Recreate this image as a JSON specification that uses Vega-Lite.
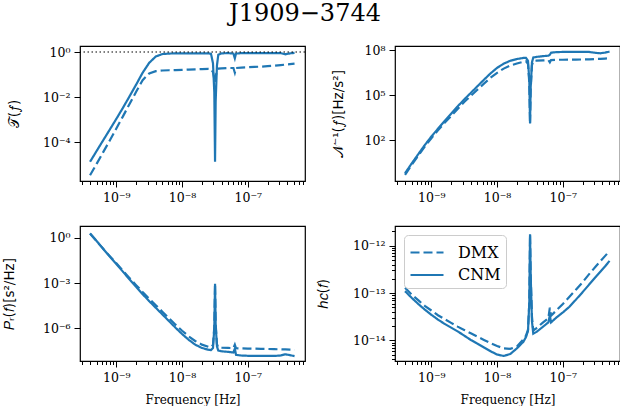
{
  "$schema": "https://vega.github.io/schema/vega-lite/v6.json",
  "padding": {"left": 1, "top": 1, "right": 0, "bottom": 0},
  "background": "white",
  "title": {"text": "J1909−3744", "font": "DejaVu Serif", "fontSize": 24, "fontWeight": "normal", "color": "black", "anchor": "middle", "dx": -6, "offset": 18},
  "datasets": {
    "T": [
      {"f": 3.98e-10, "DMX": 3.31e-6, "CNM": 1.32e-5},
      {"f": 5.01e-10, "DMX": 1.07e-5, "CNM": 3.98e-5},
      {"f": 6.31e-10, "DMX": 3.55e-5, "CNM": 1.20e-4},
      {"f": 7.94e-10, "DMX": 1.17e-4, "CNM": 3.55e-4},
      {"f": 1.00e-9, "DMX": 3.98e-4, "CNM": 1.07e-3},
      {"f": 1.26e-9, "DMX": 1.38e-3, "CNM": 3.31e-3},
      {"f": 1.58e-9, "DMX": 4.79e-3, "CNM": 1.05e-2},
      {"f": 2.00e-9, "DMX": 0.0170, "CNM": 0.0355},
      {"f": 2.51e-9, "DMX": 0.0562, "CNM": 0.120},
      {"f": 3.16e-9, "DMX": 0.112, "CNM": 0.331},
      {"f": 3.98e-9, "DMX": 0.141, "CNM": 0.631},
      {"f": 5.01e-9, "DMX": 0.151, "CNM": 0.813},
      {"f": 6.31e-9, "DMX": 0.155, "CNM": 0.851},
      {"f": 7.94e-9, "DMX": 0.158, "CNM": 0.871},
      {"f": 1.00e-8, "DMX": 0.162, "CNM": 0.871},
      {"f": 1.26e-8, "DMX": 0.166, "CNM": 0.871},
      {"f": 1.58e-8, "DMX": 0.170, "CNM": 0.871},
      {"f": 2.00e-8, "DMX": 0.174, "CNM": 0.871},
      {"f": 2.51e-8, "DMX": 0.178, "CNM": 0.871},
      {"f": 2.75e-8, "DMX": 0.174, "CNM": 0.832},
      {"f": 2.95e-8, "DMX": 0.126, "CNM": 0.316},
      {"f": 3.09e-8, "DMX": 0.0631, "CNM": 0.0158},
      {"f": 3.17e-8, "DMX": 0.0447, "CNM": 1.32e-5},
      {"f": 3.24e-8, "DMX": 0.0794, "CNM": 0.00631},
      {"f": 3.39e-8, "DMX": 0.158, "CNM": 0.251},
      {"f": 3.55e-8, "DMX": 0.182, "CNM": 0.759},
      {"f": 3.98e-8, "DMX": 0.186, "CNM": 0.871},
      {"f": 5.01e-8, "DMX": 0.195, "CNM": 0.891},
      {"f": 6.03e-8, "DMX": 0.195, "CNM": 0.851},
      {"f": 6.34e-8, "DMX": 0.120, "CNM": 0.525},
      {"f": 6.61e-8, "DMX": 0.195, "CNM": 0.851},
      {"f": 7.94e-8, "DMX": 0.204, "CNM": 0.891},
      {"f": 1.00e-7, "DMX": 0.209, "CNM": 0.891},
      {"f": 1.26e-7, "DMX": 0.219, "CNM": 0.891},
      {"f": 1.58e-7, "DMX": 0.224, "CNM": 0.891},
      {"f": 2.00e-7, "DMX": 0.234, "CNM": 0.891},
      {"f": 2.51e-7, "DMX": 0.245, "CNM": 0.891},
      {"f": 3.16e-7, "DMX": 0.263, "CNM": 0.891},
      {"f": 3.72e-7, "DMX": 0.275, "CNM": 0.794},
      {"f": 4.37e-7, "DMX": 0.288, "CNM": 0.871},
      {"f": 5.13e-7, "DMX": 0.302, "CNM": 0.912}
    ],
    "N": [
      {"f": 3.98e-10, "DMX": 0.490, "CNM": 0.631},
      {"f": 5.01e-10, "DMX": 2.29, "CNM": 2.82},
      {"f": 6.31e-10, "DMX": 9.55, "CNM": 11.7},
      {"f": 7.94e-10, "DMX": 38.0, "CNM": 47.9},
      {"f": 1.00e-9, "DMX": 138, "CNM": 178},
      {"f": 1.26e-9, "DMX": 457, "CNM": 589},
      {"f": 1.58e-9, "DMX": 1413, "CNM": 1862},
      {"f": 2.00e-9, "DMX": 4169, "CNM": 5888},
      {"f": 2.51e-9, "DMX": 12303, "CNM": 18197},
      {"f": 3.16e-9, "DMX": 35481, "CNM": 52481},
      {"f": 3.98e-9, "DMX": 91201, "CNM": 144544},
      {"f": 5.01e-9, "DMX": 234423, "CNM": 398107},
      {"f": 6.31e-9, "DMX": 602560, "CNM": 1.096e6},
      {"f": 7.94e-9, "DMX": 1.479e6, "CNM": 2.884e6},
      {"f": 1.00e-8, "DMX": 3.162e6, "CNM": 6.761e6},
      {"f": 1.26e-8, "DMX": 6.026e6, "CNM": 1.288e7},
      {"f": 1.58e-8, "DMX": 9.550e6, "CNM": 1.995e7},
      {"f": 2.00e-8, "DMX": 1.318e7, "CNM": 2.630e7},
      {"f": 2.51e-8, "DMX": 1.738e7, "CNM": 3.090e7},
      {"f": 2.75e-8, "DMX": 1.862e7, "CNM": 3.162e7},
      {"f": 2.95e-8, "DMX": 1.259e7, "CNM": 1.995e7},
      {"f": 3.09e-8, "DMX": 6.310e5, "CNM": 1.0e6},
      {"f": 3.17e-8, "DMX": 1175, "CNM": 1479},
      {"f": 3.24e-8, "DMX": 2.512e5, "CNM": 3.162e5},
      {"f": 3.39e-8, "DMX": 1.0e7, "CNM": 1.585e7},
      {"f": 3.55e-8, "DMX": 1.950e7, "CNM": 3.311e7},
      {"f": 3.98e-8, "DMX": 2.042e7, "CNM": 3.631e7},
      {"f": 5.01e-8, "DMX": 2.138e7, "CNM": 4.074e7},
      {"f": 6.03e-8, "DMX": 2.188e7, "CNM": 4.365e7},
      {"f": 6.34e-8, "DMX": 1.585e7, "CNM": 5.012e7},
      {"f": 6.61e-8, "DMX": 2.239e7, "CNM": 6.918e7},
      {"f": 7.94e-8, "DMX": 2.344e7, "CNM": 7.586e7},
      {"f": 1.00e-7, "DMX": 2.344e7, "CNM": 7.762e7},
      {"f": 1.26e-7, "DMX": 2.399e7, "CNM": 7.943e7},
      {"f": 1.58e-7, "DMX": 2.399e7, "CNM": 7.943e7},
      {"f": 2.00e-7, "DMX": 2.455e7, "CNM": 7.943e7},
      {"f": 2.51e-7, "DMX": 2.512e7, "CNM": 7.762e7},
      {"f": 3.16e-7, "DMX": 2.630e7, "CNM": 6.761e7},
      {"f": 3.72e-7, "DMX": 2.692e7, "CNM": 6.310e7},
      {"f": 4.37e-7, "DMX": 2.818e7, "CNM": 7.079e7},
      {"f": 5.13e-7, "DMX": 2.951e7, "CNM": 8.128e7}
    ],
    "P": [
      {"f": 3.98e-10, "DMX": 1.905, "CNM": 1.905},
      {"f": 5.01e-10, "DMX": 0.589, "CNM": 0.603},
      {"f": 6.31e-10, "DMX": 0.186, "CNM": 0.182},
      {"f": 7.94e-10, "DMX": 0.0603, "CNM": 0.0562},
      {"f": 1.00e-9, "DMX": 0.0200, "CNM": 0.0178},
      {"f": 1.26e-9, "DMX": 6.61e-3, "CNM": 5.62e-3},
      {"f": 1.58e-9, "DMX": 2.19e-3, "CNM": 1.78e-3},
      {"f": 2.00e-9, "DMX": 7.24e-4, "CNM": 5.62e-4},
      {"f": 2.51e-9, "DMX": 2.51e-4, "CNM": 1.82e-4},
      {"f": 3.16e-9, "DMX": 9.12e-5, "CNM": 6.31e-5},
      {"f": 3.98e-9, "DMX": 3.39e-5, "CNM": 2.29e-5},
      {"f": 5.01e-9, "DMX": 1.26e-5, "CNM": 8.32e-6},
      {"f": 6.31e-9, "DMX": 4.68e-6, "CNM": 3.02e-6},
      {"f": 7.94e-9, "DMX": 1.74e-6, "CNM": 1.10e-6},
      {"f": 1.00e-8, "DMX": 6.92e-7, "CNM": 4.17e-7},
      {"f": 1.26e-8, "DMX": 2.95e-7, "CNM": 1.74e-7},
      {"f": 1.58e-8, "DMX": 1.45e-7, "CNM": 8.32e-8},
      {"f": 2.00e-8, "DMX": 8.32e-8, "CNM": 5.01e-8},
      {"f": 2.51e-8, "DMX": 6.03e-8, "CNM": 3.80e-8},
      {"f": 2.75e-8, "DMX": 5.62e-8, "CNM": 3.63e-8},
      {"f": 2.95e-8, "DMX": 7.94e-8, "CNM": 5.01e-8},
      {"f": 3.09e-8, "DMX": 1.26e-6, "CNM": 1.0e-6},
      {"f": 3.17e-8, "DMX": 8.91e-4, "CNM": 8.91e-4},
      {"f": 3.24e-8, "DMX": 2.0e-6, "CNM": 1.58e-6},
      {"f": 3.39e-8, "DMX": 8.91e-8, "CNM": 6.31e-8},
      {"f": 3.55e-8, "DMX": 5.50e-8, "CNM": 3.31e-8},
      {"f": 3.98e-8, "DMX": 5.25e-8, "CNM": 3.02e-8},
      {"f": 5.01e-8, "DMX": 5.01e-8, "CNM": 2.75e-8},
      {"f": 6.03e-8, "DMX": 4.90e-8, "CNM": 2.51e-8},
      {"f": 6.34e-8, "DMX": 8.32e-8, "CNM": 4.47e-8},
      {"f": 6.61e-8, "DMX": 4.79e-8, "CNM": 1.74e-8},
      {"f": 7.94e-8, "DMX": 4.68e-8, "CNM": 1.58e-8},
      {"f": 1.00e-7, "DMX": 4.57e-8, "CNM": 1.51e-8},
      {"f": 1.26e-7, "DMX": 4.47e-8, "CNM": 1.48e-8},
      {"f": 1.58e-7, "DMX": 4.37e-8, "CNM": 1.48e-8},
      {"f": 2.00e-7, "DMX": 4.27e-8, "CNM": 1.48e-8},
      {"f": 2.51e-7, "DMX": 4.17e-8, "CNM": 1.48e-8},
      {"f": 3.16e-7, "DMX": 4.07e-8, "CNM": 1.58e-8},
      {"f": 3.72e-7, "DMX": 3.98e-8, "CNM": 1.91e-8},
      {"f": 4.37e-7, "DMX": 3.89e-8, "CNM": 1.66e-8},
      {"f": 5.13e-7, "DMX": 3.80e-8, "CNM": 1.45e-8}
    ],
    "H": [
      {"f": 3.98e-10, "DMX": 1.29e-13, "CNM": 1.096e-13},
      {"f": 5.01e-10, "DMX": 9.33e-14, "CNM": 7.94e-14},
      {"f": 6.31e-10, "DMX": 7.08e-14, "CNM": 5.89e-14},
      {"f": 7.94e-10, "DMX": 5.37e-14, "CNM": 4.47e-14},
      {"f": 1.00e-9, "DMX": 4.27e-14, "CNM": 3.47e-14},
      {"f": 1.26e-9, "DMX": 3.39e-14, "CNM": 2.75e-14},
      {"f": 1.58e-9, "DMX": 2.82e-14, "CNM": 2.24e-14},
      {"f": 2.00e-9, "DMX": 2.34e-14, "CNM": 1.86e-14},
      {"f": 2.51e-9, "DMX": 1.95e-14, "CNM": 1.55e-14},
      {"f": 3.16e-9, "DMX": 1.66e-14, "CNM": 1.26e-14},
      {"f": 3.98e-9, "DMX": 1.41e-14, "CNM": 1.02e-14},
      {"f": 5.01e-9, "DMX": 1.20e-14, "CNM": 8.51e-15},
      {"f": 6.31e-9, "DMX": 1.02e-14, "CNM": 7.08e-15},
      {"f": 7.94e-9, "DMX": 8.71e-15, "CNM": 5.89e-15},
      {"f": 1.00e-8, "DMX": 7.59e-15, "CNM": 5.01e-15},
      {"f": 1.26e-8, "DMX": 6.76e-15, "CNM": 4.68e-15},
      {"f": 1.58e-8, "DMX": 6.61e-15, "CNM": 5.13e-15},
      {"f": 2.00e-8, "DMX": 7.41e-15, "CNM": 6.76e-15},
      {"f": 2.51e-8, "DMX": 1.047e-14, "CNM": 9.33e-15},
      {"f": 2.75e-8, "DMX": 1.26e-14, "CNM": 1.17e-14},
      {"f": 2.95e-8, "DMX": 1.66e-14, "CNM": 1.58e-14},
      {"f": 3.09e-8, "DMX": 6.31e-14, "CNM": 6.31e-14},
      {"f": 3.17e-8, "DMX": 1.74e-12, "CNM": 1.74e-12},
      {"f": 3.24e-8, "DMX": 2.51e-13, "CNM": 2.51e-13},
      {"f": 3.39e-8, "DMX": 3.16e-14, "CNM": 2.51e-14},
      {"f": 3.55e-8, "DMX": 1.62e-14, "CNM": 1.38e-14},
      {"f": 3.98e-8, "DMX": 1.82e-14, "CNM": 1.51e-14},
      {"f": 5.01e-8, "DMX": 2.40e-14, "CNM": 1.95e-14},
      {"f": 6.03e-8, "DMX": 2.95e-14, "CNM": 2.40e-14},
      {"f": 6.34e-8, "DMX": 4.90e-14, "CNM": 3.39e-14},
      {"f": 6.61e-8, "DMX": 3.31e-14, "CNM": 2.40e-14},
      {"f": 7.94e-8, "DMX": 4.27e-14, "CNM": 3.02e-14},
      {"f": 1.00e-7, "DMX": 5.89e-14, "CNM": 3.89e-14},
      {"f": 1.26e-7, "DMX": 8.32e-14, "CNM": 5.13e-14},
      {"f": 1.58e-7, "DMX": 1.175e-13, "CNM": 7.24e-14},
      {"f": 2.00e-7, "DMX": 1.70e-13, "CNM": 1.047e-13},
      {"f": 2.51e-7, "DMX": 2.51e-13, "CNM": 1.51e-13},
      {"f": 3.16e-7, "DMX": 3.63e-13, "CNM": 2.19e-13},
      {"f": 3.72e-7, "DMX": 4.68e-13, "CNM": 2.82e-13},
      {"f": 4.37e-7, "DMX": 6.03e-13, "CNM": 3.63e-13},
      {"f": 5.13e-7, "DMX": 7.76e-13, "CNM": 4.79e-13}
    ]
  },
  "columns": 2,
  "spacing": {"row": 45, "column": 90},
  "bounds": "flush",
  "resolve": {
    "scale": {"x": "independent", "y": "independent", "strokeDash": "independent"},
    "legend": {"strokeDash": "independent"}
  },
  "concat": [
    {
      "width": 225, "height": 135,
      "layer": [
        {
          "data": {"name": "T"},
          "transform": [{"fold": ["DMX", "CNM"], "as": ["m", "v"]}],
          "mark": {"type": "line", "color": "#1f77b4", "strokeWidth": 2.2},
          "encoding": {
            "x": {"field": "f", "type": "quantitative", "scale": {"type": "log", "domain": [2.8e-10, 7.4e-7], "nice": false},
              "axis": {"title": null, "values": [3e-10,4e-10,5e-10,6e-10,7e-10,8e-10,9e-10,1e-9,2e-9,3e-9,4e-9,5e-9,6e-9,7e-9,8e-9,9e-9,1e-8,2e-8,3e-8,4e-8,5e-8,6e-8,7e-8,8e-8,9e-8,1e-7,2e-7,3e-7,4e-7,5e-7,6e-7,7e-7],
                "labelExpr": "datum.value == 1e-9 ? '10⁻⁹' : datum.value == 1e-8 ? '10⁻⁸' : datum.value == 1e-7 ? '10⁻⁷' : ''",
                "tickSize": {"condition": {"test": "datum.value == 1e-9 || datum.value == 1e-8 || datum.value == 1e-7", "value": 6}, "value": 3.5}}},
            "y": {"field": "v", "type": "quantitative", "scale": {"type": "log", "domain": [1.85e-6, 1.85], "nice": false},
              "axis": {"values": [1e-4, 1e-2, 1], "labelExpr": "datum.value == 1 ? '10⁰' : datum.value == 0.01 ? '10⁻²' : '10⁻⁴'",
                "title": "𝒯(𝑓)", "titleX": -66, "titleY": 67.5}},
            "strokeDash": {"field": "m", "type": "nominal", "scale": {"domain": ["DMX", "CNM"], "range": [[9, 4], [1, 0]]}, "legend": null}
          }
        },
        {
          "data": {"values": [{"ref": 1}]},
          "mark": {"type": "rule", "color": "black", "strokeDash": [1.5, 2.5], "strokeWidth": 1.1},
          "encoding": {"y": {"field": "ref", "type": "quantitative"}}
        }
      ]
    },
    {
      "width": 225, "height": 135,
      "data": {"name": "N"},
      "transform": [{"fold": ["DMX", "CNM"], "as": ["m", "v"]}],
      "mark": {"type": "line", "color": "#1f77b4", "strokeWidth": 2.2},
      "encoding": {
        "x": {"field": "f", "type": "quantitative", "scale": {"type": "log", "domain": [2.8e-10, 7.4e-7], "nice": false},
          "axis": {"title": null, "values": [3e-10,4e-10,5e-10,6e-10,7e-10,8e-10,9e-10,1e-9,2e-9,3e-9,4e-9,5e-9,6e-9,7e-9,8e-9,9e-9,1e-8,2e-8,3e-8,4e-8,5e-8,6e-8,7e-8,8e-8,9e-8,1e-7,2e-7,3e-7,4e-7,5e-7,6e-7,7e-7],
            "labelExpr": "datum.value == 1e-9 ? '10⁻⁹' : datum.value == 1e-8 ? '10⁻⁸' : datum.value == 1e-7 ? '10⁻⁷' : ''",
            "tickSize": {"condition": {"test": "datum.value == 1e-9 || datum.value == 1e-8 || datum.value == 1e-7", "value": 6}, "value": 3.5}}},
        "y": {"field": "v", "type": "quantitative", "scale": {"type": "log", "domain": [0.1936, 1.936e8], "nice": false},
          "axis": {"values": [100, 100000, 100000000], "labelExpr": "datum.value == 100 ? '10²' : datum.value == 100000 ? '10⁵' : '10⁸'",
            "title": "𝒩⁻¹(𝑓)[Hz/s²]", "titleX": -57, "titleY": 67.5}},
        "strokeDash": {"field": "m", "type": "nominal", "scale": {"domain": ["DMX", "CNM"], "range": [[9, 4], [1, 0]]}, "legend": null}
      }
    },
    {
      "width": 225, "height": 135,
      "data": {"name": "P"},
      "transform": [{"fold": ["DMX", "CNM"], "as": ["m", "v"]}],
      "mark": {"type": "line", "color": "#1f77b4", "strokeWidth": 2.2},
      "encoding": {
        "x": {"field": "f", "type": "quantitative", "scale": {"type": "log", "domain": [2.8e-10, 7.4e-7], "nice": false},
          "axis": {"title": "Frequency [Hz]", "titleY": 42, "titleBaseline": "alphabetic", "values": [3e-10,4e-10,5e-10,6e-10,7e-10,8e-10,9e-10,1e-9,2e-9,3e-9,4e-9,5e-9,6e-9,7e-9,8e-9,9e-9,1e-8,2e-8,3e-8,4e-8,5e-8,6e-8,7e-8,8e-8,9e-8,1e-7,2e-7,3e-7,4e-7,5e-7,6e-7,7e-7],
            "labelExpr": "datum.value == 1e-9 ? '10⁻⁹' : datum.value == 1e-8 ? '10⁻⁸' : datum.value == 1e-7 ? '10⁻⁷' : ''",
            "tickSize": {"condition": {"test": "datum.value == 1e-9 || datum.value == 1e-8 || datum.value == 1e-7", "value": 6}, "value": 3.5}}},
        "y": {"field": "v", "type": "quantitative", "scale": {"type": "log", "domain": [6.84e-9, 5.96], "nice": false},
          "axis": {"values": [1e-6, 0.001, 1], "labelExpr": "datum.value == 1 ? '10⁰' : datum.value == 0.001 ? '10⁻³' : '10⁻⁶'",
            "title": "𝑃ᵣ(𝑓)[s²/Hz]", "titleX": -71, "titleY": 67.5}},
        "strokeDash": {"field": "m", "type": "nominal", "scale": {"domain": ["DMX", "CNM"], "range": [[9, 4], [1, 0]]}, "legend": null}
      }
    },
    {
      "width": 225, "height": 135,
      "data": {"name": "H"},
      "transform": [{"fold": ["DMX", "CNM"], "as": ["m", "v"]}],
      "mark": {"type": "line", "color": "#1f77b4", "strokeWidth": 2.2},
      "encoding": {
        "x": {"field": "f", "type": "quantitative", "scale": {"type": "log", "domain": [2.8e-10, 7.4e-7], "nice": false},
          "axis": {"title": "Frequency [Hz]", "titleY": 42, "titleBaseline": "alphabetic", "values": [3e-10,4e-10,5e-10,6e-10,7e-10,8e-10,9e-10,1e-9,2e-9,3e-9,4e-9,5e-9,6e-9,7e-9,8e-9,9e-9,1e-8,2e-8,3e-8,4e-8,5e-8,6e-8,7e-8,8e-8,9e-8,1e-7,2e-7,3e-7,4e-7,5e-7,6e-7,7e-7],
            "labelExpr": "datum.value == 1e-9 ? '10⁻⁹' : datum.value == 1e-8 ? '10⁻⁸' : datum.value == 1e-7 ? '10⁻⁷' : ''",
            "tickSize": {"condition": {"test": "datum.value == 1e-9 || datum.value == 1e-8 || datum.value == 1e-7", "value": 6}, "value": 3.5}}},
        "y": {"field": "v", "type": "quantitative", "scale": {"type": "log", "domain": [3.66e-15, 2.61e-12], "nice": false},
          "axis": {"values": [4e-15,5e-15,6e-15,7e-15,8e-15,9e-15,1e-14,2e-14,3e-14,4e-14,5e-14,6e-14,7e-14,8e-14,9e-14,1e-13,2e-13,3e-13,4e-13,5e-13,6e-13,7e-13,8e-13,9e-13,1e-12,2e-12],
            "labelExpr": "datum.value == 1e-14 ? '10⁻¹⁴' : datum.value == 1e-13 ? '10⁻¹³' : datum.value == 1e-12 ? '10⁻¹²' : ''",
            "tickSize": {"condition": {"test": "datum.value == 1e-14 || datum.value == 1e-13 || datum.value == 1e-12", "value": 6}, "value": 3.5},
            "title": "ℎ𝑐(𝑓)", "titleX": -72, "titleY": 67.5}},
        "strokeDash": {"field": "m", "type": "nominal", "scale": {"domain": ["DMX", "CNM"], "range": [[9, 4], [1, 0]]},
          "legend": {"orient": "top-left", "title": null, "offset": 8.5, "padding": 5, "fillColor": "rgba(255,255,255,0.8)", "strokeColor": "#cccccc", "cornerRadius": 4,
            "labelFont": "DejaVu Serif", "labelFontSize": 16, "labelColor": "black", "symbolType": "M-1,0L2,0", "symbolSize": 484, "symbolStrokeWidth": 2.2, "symbolStrokeColor": "#1f77b4", "symbolFillColor": "transparent", "labelOffset": 24, "rowPadding": 1.5, "labelLimit": 200}}
      }
    }
  ],
  "config": {
    "view": {"stroke": "black", "strokeWidth": 1.2},
    "axis": {"domain": false, "grid": false, "tickColor": "black", "tickWidth": 1, "tickSize": 6, "labelColor": "black", "labelFont": "DejaVu Serif", "labelFontSize": 12.5, "labelPadding": 4, "labelOverlap": false, "labelFlush": false,
      "titleColor": "black", "titleFontWeight": "normal", "titleFont": "DejaVu Serif", "titleFontSize": 12},
    "axisY": {"titleFont": "DejaVu Sans", "titleFontSize": 13.5, "titleBaseline": "middle", "titleAngle": -90}
  }
}
